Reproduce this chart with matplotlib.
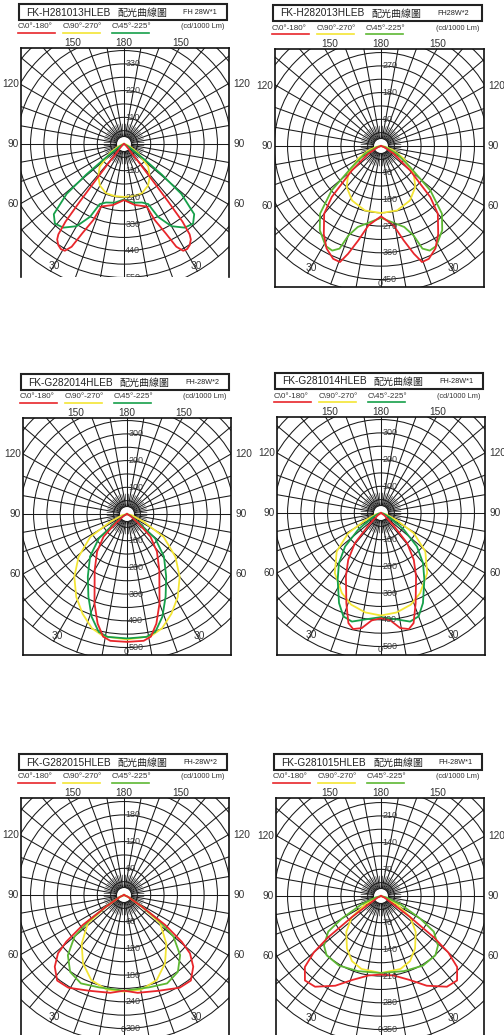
import numpy as np
import matplotlib
matplotlib.use("Agg")
import matplotlib.pyplot as plt
from matplotlib.patches import Rectangle, Circle

plt.rcParams['font.family'] = ['Liberation Sans', 'Noto Sans CJK TC', 'DejaVu Sans']

W, H = 504, 1035

# ---------------- data ----------------
models = ["FK-H281013HLEB", "FK-H282013HLEB", "FK-G282014HLEB",
          "FK-G281014HLEB", "FK-G282015HLEB", "FK-G281015HLEB"]
powers = ["FH 28W*1", "FH28W*2", "FH-28W*2", "FH-28W*1", "FH-28W*2", "FH-28W*1"]
chart_name = "配光曲線圖"
legend_labels = ["C\\0°-180°", "C\\90°-270°", "C\\45°-225°"]
unit_label = "(cd/1000 Lm)"
ring_steps = [110, 90, 100, 100, 60, 70]
angle_top = ["150", "180", "150"]
angle_side = ["120", "90", "60"]
angle_bottom = ["30", "30"]

# gamma angles (deg from nadir) and intensities (cd/1000lm), symmetric curves
p1_c0_ang = [0, 10, 20, 22, 25, 27, 29, 31, 33, 35, 36, 37, 37.5, 38, 39, 40, 45, 60, 90]
p1_c0_val = [231, 255, 274, 338, 405, 475, 503, 505, 497, 480, 460, 400, 300, 200, 100, 50, 20, 5, 0]
p1_c90_ang = [0, 10, 20, 30, 38, 47, 57, 65, 75, 90]
p1_c90_val = [218, 218, 216, 198, 172, 137, 70, 30, 10, 0]
p1_c45_ang = [0, 9, 17, 22, 25, 30, 36, 41, 45, 49, 51, 53, 56, 60, 90]
p1_c45_val = [228, 245, 252, 267, 331, 391, 426, 434, 409, 313, 200, 100, 40, 20, 0]

p2_c0_ang = [0, 9, 13.5, 17, 19.5, 23, 28, 33, 40, 44, 50, 59, 70, 90]
p2_c0_val = [237, 271, 327, 380, 415, 413, 391, 354, 298, 239, 128, 50, 10, 0]
p2_c90_ang = [0, 14, 28, 40, 50, 61, 71, 80, 90]
p2_c90_val = [226, 224, 208, 180, 144, 88, 45, 15, 0]
p2_c45_ang = [0, 8, 16, 20, 22, 25, 29, 36, 42, 48, 54, 64, 75, 90]
p2_c45_val = [242, 259, 284, 321, 373, 389, 385, 351, 307, 224, 122, 60, 15, 0]

p3_c0_ang = [0, 7.5, 11, 15, 20, 30, 38.5, 46, 51, 60, 90]
p3_c0_val = [479, 479, 468, 425, 356, 242, 180, 122, 56, 15, 0]
p3_c90_ang = [0, 11, 17, 24, 31.5, 40, 48.5, 58, 65, 75, 90]
p3_c90_val = [470, 466, 448, 409, 364, 307, 242, 162, 69, 20, 0]
p3_c45_ang = [0, 9, 13.5, 19, 25, 32, 41, 49, 53, 62, 90]
p3_c45_val = [466, 466, 454, 407, 342, 277, 211, 140, 62, 15, 0]

p4_c0_ang = [0, 5, 9.5, 13.5, 16.5, 21, 29, 35, 41, 45, 55, 90]
p4_c0_val = [394, 404, 437, 447, 430, 362, 271, 214, 149, 67, 15, 0]
p4_c90_ang = [0, 9, 18, 26, 37.5, 49, 58.5, 65, 75, 90]
p4_c90_val = [384, 377, 361, 334, 284, 220, 144, 66, 20, 0]
p4_c45_ang = [0, 7, 15, 20, 25, 33, 40, 47, 54, 62, 75, 90]
p4_c45_val = [390, 400, 421, 412, 372, 298, 245, 184, 105, 40, 10, 0]

p5_c0_ang = [0, 8, 20, 31, 38, 44, 48.5, 51, 54, 57, 65, 90]
p5_c0_val = [215, 222, 229, 243, 244, 224, 198, 167, 114, 48, 10, 0]
p5_c90_ang = [0, 10.5, 21, 31, 41, 52, 57, 65, 90]
p5_c90_val = [217, 216, 205, 179, 145, 103, 48, 10, 0]
p5_c45_ang = [0, 15, 26, 35, 43, 50, 54, 58, 65, 90]
p5_c45_val = [215, 215, 221, 211, 185, 145, 96, 38, 10, 0]

p6_c0_ang = [0, 9, 19, 27, 36, 42, 47, 50, 52, 54, 56, 65, 90]
p6_c0_val = [206, 211, 233, 264, 294, 298, 273, 230, 175, 95, 41, 10, 0]
p6_c90_ang = [0, 15, 24, 33, 44, 54, 62.5, 70, 90]
p6_c90_val = [202, 198, 187, 164, 131, 95, 47, 15, 0]
p6_c45_ang = [0, 17, 31, 42.5, 49, 56, 60, 67, 75, 90]
p6_c45_val = [202, 206, 213, 211, 198, 167, 119, 55, 15, 0]

curves = [
    [(p1_c0_ang, p1_c0_val), (p1_c90_ang, p1_c90_val), (p1_c45_ang, p1_c45_val)],
    [(p2_c0_ang, p2_c0_val), (p2_c90_ang, p2_c90_val), (p2_c45_ang, p2_c45_val)],
    [(p3_c0_ang, p3_c0_val), (p3_c90_ang, p3_c90_val), (p3_c45_ang, p3_c45_val)],
    [(p4_c0_ang, p4_c0_val), (p4_c90_ang, p4_c90_val), (p4_c45_ang, p4_c45_val)],
    [(p5_c0_ang, p5_c0_val), (p5_c90_ang, p5_c90_val), (p5_c45_ang, p5_c45_val)],
    [(p6_c0_ang, p6_c0_val), (p6_c90_ang, p6_c90_val), (p6_c45_ang, p6_c45_val)],
]

# ---------------- layout (pixels) ----------------
# left, right, top, bottom, cx, cy, bottom border drawn
frames = [
    (21, 229, 48, 277, 124, 144, False),
    (275, 484, 49, 287, 381, 146, True),
    (23, 231, 418, 655, 127, 514, True),
    (277, 485, 417, 655, 381, 513, True),
    (21, 229, 798, 1040, 124, 895, False),
    (276, 484, 798, 1040, 381, 896, False),
]
LABEL_PX = 26.7          # pixels per labelled ring step
RED = '#e8262b'
YEL = '#f3e535'
GREENS = ['#16a04a', '#5db733', '#16a04a', '#16a04a', '#5db733', '#5db733']
TXT = '#333333'

fig = plt.figure(figsize=(W / 100, H / 100), dpi=100)
fig.patch.set_facecolor('white')


def fx(x):
    return x / W


def fy(y):
    return 1 - y / H


for i in range(6):
    L, R, T, B, cx, cy, has_bottom = frames[i]
    step = ring_steps[i]
    s = LABEL_PX / step            # px per unit
    ax = fig.add_axes([fx(L), fy(B), (R - L) / W, (B - T) / H])
    ax.set_xlim((L - cx) / s, (R - cx) / s)
    ax.set_ylim((cy - B) / s, (cy - T) / s)
    ax.set_xticks([])
    ax.set_yticks([])
    for sp in ax.spines.values():
        sp.set_linewidth(1.2)
        sp.set_color('#111111')
    ax.spines['bottom'].set_visible(has_bottom)

    half = step / 2.0
    rmax = 11 * half
    r0 = 7.5 / s
    glw = 0.75
    gcol = '#1a1a1a'
    # rings
    for k in range(1, 12):
        ax.add_patch(Circle((0, 0), k * half, fill=False, lw=glw, ec=gcol, zorder=1))
    # radial lines every 10 deg
    for a in range(0, 360, 10):
        t = np.deg2rad(a)
        ax.plot([r0 * np.sin(t), rmax * np.sin(t)], [r0 * np.cos(t), rmax * np.cos(t)],
                color=gcol, lw=glw, zorder=1)
    # 5 deg lines near centre
    r5 = 20 / s
    for a in range(5, 360, 10):
        t = np.deg2rad(a)
        ax.plot([r0 * np.sin(t), r5 * np.sin(t)], [r0 * np.cos(t), r5 * np.cos(t)],
                color=gcol, lw=0.45, zorder=1)
    ax.add_patch(Circle((0, 0), r0, fc='white', ec=gcol, lw=glw, zorder=2))

    # curves
    cols = [RED, YEL, GREENS[i]]
    order = [1, 2, 0]
    for j in order:
        ang, val = curves[i][j]
        ang = np.asarray(ang, float)
        val = np.asarray(val, float)
        full_a = np.concatenate([-ang[::-1], ang[1:]])
        full_v = np.concatenate([val[::-1], val[1:]])
        t = np.deg2rad(full_a)
        ax.plot(full_v * np.sin(t), -full_v * np.cos(t), color=cols[j], lw=1.3,
                zorder=3, solid_joinstyle='round')

    # ring labels
    for k in range(1, 4):
        ax.text(1.2 / s, k * step, str(k * step), ha='left', va='center',
                fontsize=6.5, color='#3a3a3a', zorder=4)
    for k in range(1, 6):
        ax.text(1.2 / s, -k * step, str(k * step), ha='left', va='center',
                fontsize=6.5, color='#3a3a3a', zorder=4, clip_on=True)
    if has_bottom or B > H:
        zy = min(cy + 137, H - 5)
        ax.text(-1 / s, (cy - zy) / s, "0", ha='center', va='center', fontsize=6.5,
                color='#3a3a3a', zorder=4, clip_on=False)

    # angle labels
    ty = T - 5
    fig.text(fx(cx - 51), fy(ty), angle_top[0], ha='center', va='center', fontsize=7.3, color=TXT)
    fig.text(fx(cx), fy(ty), angle_top[1], ha='center', va='center', fontsize=7.3, color=TXT)
    fig.text(fx(cx + 57), fy(ty), angle_top[2], ha='center', va='center', fontsize=7.3, color=TXT)
    for lab, dy in zip(angle_side, [-60, 0, 60]):
        fig.text(fx(L - 2), fy(cy + dy), lab, ha='right', va='center', fontsize=7.3, color=TXT)
        fig.text(fx(R + 4), fy(cy + dy), lab, ha='left', va='center', fontsize=7.3, color=TXT)
    fig.text(fx(cx - 70), fy(cy + 122), angle_bottom[0], ha='center', va='center', fontsize=7.3, color=TXT)
    fig.text(fx(cx + 72), fy(cy + 122), angle_bottom[1], ha='center', va='center', fontsize=7.3, color=TXT)

    # title box
    bx0, bx1 = L - 2, R - 2
    by0, by1 = T - 44, T - 28
    fig.add_artist(Rectangle((fx(bx0), fy(by1)), (bx1 - bx0) / W, (by1 - by0) / H,
                             transform=fig.transFigure, fill=False, lw=1.5, ec='#222222'))
    tyc = (by0 + by1) / 2 + 0.5
    fig.text(fx(bx0 + 7), fy(tyc), models[i], ha='left', va='center', fontsize=7.3, color='#222222')
    fig.text(fx(bx0 + 99), fy(tyc), chart_name, ha='left', va='center', fontsize=7.2,
             color='#222222', family=['Noto Sans CJK TC', 'DejaVu Sans'])
    fig.text(fx(bx0 + 164), fy(tyc), powers[i], ha='left', va='center', fontsize=5.2, color='#222222')

    # legend row
    ly = T - 21
    lcols = [RED, YEL, GREENS[i]]
    for j, (lab, off) in enumerate(zip(legend_labels, [0, 45, 94])):
        x0 = L - 3 + off
        fig.text(fx(x0), fy(ly), lab, ha='left', va='center', fontsize=5.8, color='#333333')
        fig.add_artist(plt.Line2D([fx(x0), fx(x0 + 37)], [fy(ly + 5.5), fy(ly + 5.5)],
                                  transform=fig.transFigure, color=lcols[j], lw=1.2))
    fig.text(fx(R - 5), fy(ly), unit_label, ha='right', va='center', fontsize=5.3, color='#333333')

fig.savefig('out.png', dpi=100, facecolor='white')
